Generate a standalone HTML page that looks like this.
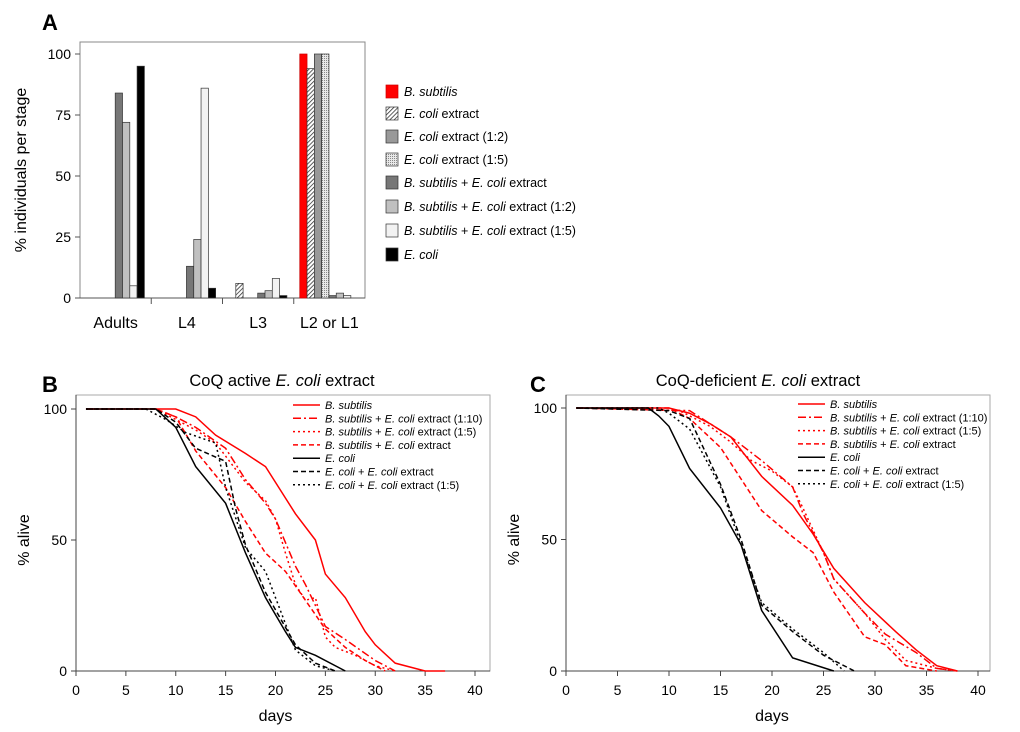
<!DOCTYPE html>
<html><head><meta charset="utf-8"><style>
html,body{margin:0;padding:0;background:#fff;}
svg{display:block;font-family:"Liberation Sans",Arial,sans-serif;}
</style></head><body>
<svg id="fig" width="1020" height="732" viewBox="0 0 1020 732" xmlns="http://www.w3.org/2000/svg">
<defs>
<pattern id="hatch" width="3" height="3" patternUnits="userSpaceOnUse" patternTransform="rotate(45)"><rect width="3" height="3" fill="#fff"/><line x1="0" y1="0" x2="0" y2="3" stroke="#333" stroke-width="1.6"/></pattern>
<pattern id="dots" width="2" height="2" patternUnits="userSpaceOnUse"><rect width="2" height="2" fill="#e8e8e8"/><rect width="1" height="1" fill="#888"/></pattern>
</defs>
<text x="42" y="30" font-size="22" font-weight="bold">A</text>
<text x="42" y="392" font-size="22" font-weight="bold">B</text>
<text x="530" y="392" font-size="22" font-weight="bold">C</text>
<g id="pa"></g>
<g id="pb"></g>
<g id="pc"></g>
</svg>
<script>
const NS="http://www.w3.org/2000/svg";
function mk(p,t,a){const e=document.createElementNS(NS,t);for(const k in a)e.setAttribute(k,a[k]);p.appendChild(e);return e;}

// Panel A data
const stages=["Adults","L4","L3","L2 or L1"];
const barSeries=["B. subtilis","E. coli extract","E. coli extract (1:2)","E. coli extract (1:5)","B. subtilis + E. coli extract","B. subtilis + E. coli extract (1:2)","B. subtilis + E. coli extract (1:5)","E. coli"];
const sBsub=[0,0,0,100];
const sExt=[0,0,6,94];
const sExt12=[0,0,0,100];
const sExt15=[0,0,0,100];
const sBsubExt=[84,13,2,1];
const sBsubExt12=[72,24,3,2];
const sBsubExt15=[5,86,8,1];
const sEcoli=[95,4,1,0];
const aTicks=[0,25,50,75,100];

// Panel B data (days, % alive)
const bBsub=[[1,100],[10,100],[12,97],[14,90],[17,83],[19,78],[22,60],[24,50],[25,37],[27,28],[29,15],[30,10],[32,3],[35,0],[37,0]];
const bBsub110=[[1,100],[8,100],[10,97],[12,93],[15,85],[17,73],[19,64],[20,58],[22,40],[23,33],[25,17],[27,12],[30,4],[32,0]];
const bBsub15=[[1,100],[8,100],[10,96],[12,92],[14,87],[17,72],[19,65],[20,58],[21,45],[22,33],[23,27],[24,28],[25,13],[26,9],[28,6],[30,2],[32,0]];
const bBsubExt=[[1,100],[8,100],[10,97],[12,84],[15,70],[17,57],[19,45],[21,38],[23,27],[25,16],[27,9],[29,4],[31,0]];
const bEcoli=[[1,100],[8,100],[10,93],[12,78],[15,64],[17,45],[19,28],[21,15],[22,9],[24,6],[27,0]];
const bEcoliExt=[[1,100],[8,100],[10,95],[12,85],[15,80],[16,62],[17,48],[19,30],[22,10],[24,3],[26,0]];
const bEcoliExt15=[[1,100],[7,100],[9,96],[11,91],[14,87],[15,70],[17,47],[19,38],[22,8],[24,2],[26,0]];

// Panel C data
const cBsub=[[1,100],[10,100],[12,98],[14,94],[16,89],[19,74],[22,63],[24,52],[26,39],[29,26],[32,15],[34,8],[36,2],[38,0]];
const cBsub110=[[1,100],[12,99],[14,94],[16,89],[19,80],[22,70],[23,60],[25,45],[26,35],[29,22],[31,14],[34,7],[36,1],[38,0]];
const cBsub15=[[1,100],[11,99],[14,93],[16,87],[18,80],[20,76],[22,70],[23,62],[25,45],[26,35],[29,22],[31,12],[33,4],[36,1],[38,0]];
const cBsubExt=[[1,100],[10,100],[12,96],[15,85],[17,73],[19,61],[22,51],[24,45],[26,30],[29,13],[31,10],[33,2],[36,0]];
const cEcoli=[[1,100],[8,100],[9,97],[10,93],[12,77],[15,62],[17,48],[19,23],[22,5],[26,0]];
const cEcoliExt=[[1,100],[10,99],[12,96],[15,71],[17,50],[19,25],[22,15],[25,6],[28,0]];
const cEcoliExt15=[[1,100],[9,100],[10,98],[12,92],[15,70],[17,48],[19,26],[22,16],[25,7],[27,0]];
const xTicks=[0,5,10,15,20,25,30,35,40];
const yTicks=[0,50,100];

// ---- Panel A ----
(function(){
const g=document.getElementById('pa');
const X0=80,X1=365,Y0=298,Y100=54,catW=(X1-X0)/4,bw=7.3;
const y=v=>Y0-(Y0-Y100)*v/100;
const fills=['#ff0000','url(#hatch)','#999','url(#dots)','#777','#c0c0c0','#f2f2f2','#000'];
const all=[sBsub,sExt,sExt12,sExt15,sBsubExt,sBsubExt12,sBsubExt15,sEcoli];
const fr=mk(g,'rect',{x:X0,y:42,width:X1-X0,height:Y0-42,fill:'none',stroke:'#888','stroke-width':1});


aTicks.forEach(t=>{
 mk(g,'line',{x1:X0-5,x2:X0,y1:y(t),y2:y(t),stroke:'#555'});
 const tx=mk(g,'text',{x:X0-9,y:y(t)+5,'font-size':14,'text-anchor':'end'});tx.textContent=t;
 
 
});
mk(g,'line',{x1:X0,x2:X1,y1:Y0,y2:Y0,stroke:'#555'});
stages.forEach((s,i)=>{
 const cx=X0+catW*i;
 if(i>0)mk(g,'line',{x1:cx,x2:cx,y1:Y0,y2:Y0+6,stroke:'#555'});
 const tx=mk(g,'text',{x:cx+catW/2,y:Y0+30,'font-size':16,'text-anchor':'middle'});tx.textContent=s;
 
 
 all.forEach((arr,j)=>{
  const v=arr[i];if(v<=0)return;
  const r=mk(g,'rect',{x:cx+6+j*bw,y:y(v),width:bw,height:Y0-y(v),fill:fills[j],stroke:j==0?'#c00':'#333','stroke-width':0.7});
  
  
 });
});
const yl=mk(g,'text',{transform:'translate(26,170) rotate(-90)','font-size':16,'text-anchor':'middle'});yl.textContent='% individuals per stage';


const ly=[92,114,137,160,183,207,231,255];
const it=['B. subtilis','E. coli','E. coli','E. coli','B. subtilis','B. subtilis','B. subtilis','E. coli'];
const rest=[''," extract"," extract  (1:2)"," extract  (1:5)"," + "," + "," + ",''];
barSeries.forEach((s,j)=>{
 const r=mk(g,'rect',{x:386,y:ly[j]-7,width:12,height:13,fill:fills[j],stroke:j==0?'#c00':'#333','stroke-width':0.7});
 
 
 const t=mk(g,'text',{x:404,y:ly[j]+4,'font-size':12.5});
 
 
 const a=mk(t,'tspan',{'font-style':'italic'});a.textContent=it[j];
 if(j>=4&&j<=6){const b=mk(t,'tspan',{});b.textContent=' + ';const c=mk(t,'tspan',{'font-style':'italic'});c.textContent='E. coli';const d=mk(t,'tspan',{});d.textContent=' extract'+(j==5?' (1:2)':j==6?' (1:5)':'');}
 else{const b=mk(t,'tspan',{});b.textContent=rest[j];}
});
})();

// ---- Survival panels ----
function survival(gid,X0,X40,Y100,Y0,frameR,title,titleX,series,legX,legY){
 const g=document.getElementById(gid);
 const x=d=>X0+(X40-X0)*d/40, y=v=>Y0-(Y0-Y100)*v/100;
 const fr=mk(g,'rect',{x:X0,y:395,width:frameR-X0,height:Y0-395,fill:'none',stroke:'#aaa','stroke-width':1});
 
 
 mk(g,'line',{x1:X0,x2:frameR,y1:Y0,y2:Y0,stroke:'#444'});
 mk(g,'line',{x1:X0,x2:X0,y1:395,y2:Y0,stroke:'#444'});
 xTicks.forEach(t=>{
  mk(g,'line',{x1:x(t),x2:x(t),y1:Y0,y2:Y0+5,stroke:'#444'});
  const tx=mk(g,'text',{x:x(t),y:Y0+24,'font-size':14,'text-anchor':'middle'});tx.textContent=t;
  
  
 });
 yTicks.forEach(t=>{
  mk(g,'line',{x1:X0-5,x2:X0,y1:y(t),y2:y(t),stroke:'#444'});
  const tx=mk(g,'text',{x:X0-9,y:y(t)+5,'font-size':14,'text-anchor':'end'});tx.textContent=t;
  
  
 });
 const xl=mk(g,'text',{x:(X0+X40)/2,y:721,'font-size':16,'text-anchor':'middle'});xl.textContent='days';
 
 
 const yl=mk(g,'text',{transform:'translate('+(X0-47)+','+((Y0+Y100)/2)+') rotate(-90)','font-size':16,'text-anchor':'middle'});yl.textContent='% alive';
 
 
 const tt=mk(g,'text',{x:titleX,y:386,'font-size':16.5,'text-anchor':'middle'});
 
 
 const t1=mk(tt,'tspan',{});t1.textContent=title+' ';const t2=mk(tt,'tspan',{'font-style':'italic'});t2.textContent='E. coli';const t3=mk(tt,'tspan',{});t3.textContent=' extract';
 series.forEach((s,i)=>{
  const p=mk(g,'polyline',{points:s.d.map(q=>x(q[0])+','+y(q[1])).join(' '),fill:'none',stroke:s.c,'stroke-width':1.5,'stroke-dasharray':s.da});
  
  
  const ly=legY+i*13.3;
  const l=mk(g,'line',{x1:legX,x2:legX+27,y1:ly,y2:ly,stroke:s.c,'stroke-width':1.5,'stroke-dasharray':s.da});
  
  
  const t=mk(g,'text',{x:legX+32,y:ly+4,'font-size':11});
  
  
  s.lab.forEach(([txt,itl])=>{const sp=mk(t,'tspan',itl?{'font-style':'italic'}:{});sp.textContent=txt;});
 });
}
const R='#ff0000',K='#000';
function labs(){return [
 [['B. subtilis',1]],
 [['B. subtilis',1],[' + ',0],['E. coli',1],[' extract (1:10)',0]],
 [['B. subtilis',1],[' + ',0],['E. coli',1],[' extract (1:5)',0]],
 [['B. subtilis',1],[' + ',0],['E. coli',1],[' extract',0]],
 [['E. coli',1]],
 [['E. coli',1],[' + ',0],['E. coli',1],[' extract',0]],
 [['E. coli',1],[' + ',0],['E. coli',1],[' extract (1:5)',0]]];}
const sty=[[R,'none'],[R,'8,3,2,3'],[R,'2,3'],[R,'5,3'],[K,'none'],[K,'5,3'],[K,'2,3']];
const ids=['bsub','bsub-ext-1-10','bsub-ext-1-5','bsub-ext','ecoli','ecoli-ext','ecoli-ext-1-5'];
function build(datas){const L=labs();return datas.map((d,i)=>({d:d,c:sty[i][0],da:sty[i][1],lab:L[i],id:ids[i]}));}
survival('pb',76,475,409,671,490,'CoQ active',282,build([bBsub,bBsub110,bBsub15,bBsubExt,bEcoli,bEcoliExt,bEcoliExt15]),293,405);
survival('pc',566,978,408,671,990,'CoQ-deficient',758,build([cBsub,cBsub110,cBsub15,cBsubExt,cEcoli,cEcoliExt,cEcoliExt15]),798,404);
</script>
</body></html>
